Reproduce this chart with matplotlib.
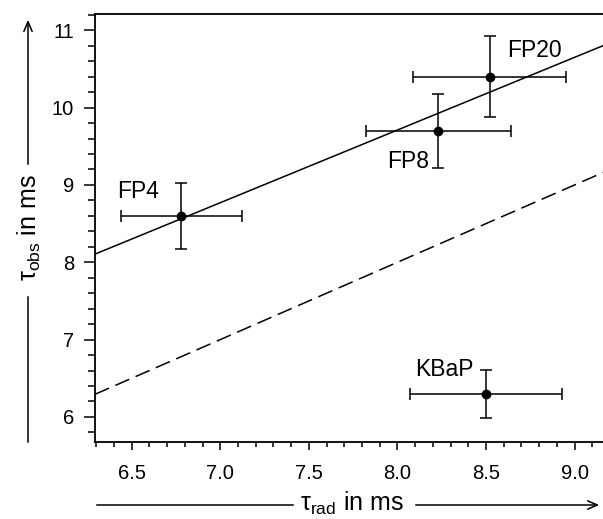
import matplotlib
matplotlib.use("Agg")
import matplotlib.pyplot as plt
import numpy as np
from matplotlib.ticker import MultipleLocator, FormatStrFormatter

plt.rcParams['font.family'] = ['Liberation Sans', 'DejaVu Sans']
plt.rcParams['mathtext.fontset'] = 'custom'
plt.rcParams['mathtext.rm'] = 'Liberation Sans'
plt.rcParams['mathtext.it'] = 'Liberation Sans:italic'

# data
labels = ["FP4", "FP8", "FP20", "KBaP"]
tau_rad = [6.78, 8.23, 8.52, 8.50]
tau_rad_err = [0.34, 0.41, 0.43, 0.43]
tau_obs = [8.60, 9.70, 10.40, 6.30]
tau_obs_err = [0.43, 0.48, 0.52, 0.31]
label_pos = [(6.42, 8.83), (7.94, 9.215), (8.62, 10.66), (8.10, 6.53)]
fit_intercept = 2.19
fit_slope = 0.94

xlim = (6.293, 9.16)
ylim = (5.68, 11.21)

fig = plt.figure(figsize=(6.03, 5.19), dpi=100)
ax = fig.add_axes([95/603, (519-441.7)/519, (603-95)/603, (441.7-14)/519])

ax.errorbar(tau_rad, tau_obs, xerr=tau_rad_err, yerr=tau_obs_err, fmt='o',
            color='black', ms=6, elinewidth=1.1, capsize=4, capthick=1.1, zorder=3)

xs = np.array(xlim)
ax.plot(xs, fit_intercept + fit_slope * xs, color='black', lw=1.1)
ax.plot(xs, xs, color='black', lw=1.1, ls=(0, (10, 4.5)))

for lab, (lx, ly) in zip(labels, label_pos):
    ax.text(lx, ly, lab, fontsize=16.5, ha='left', va='baseline')

ax.set_xlim(*xlim)
ax.set_ylim(*ylim)
ax.xaxis.set_major_locator(MultipleLocator(0.5))
ax.xaxis.set_minor_locator(MultipleLocator(0.1))
ax.xaxis.set_major_formatter(FormatStrFormatter('%.1f'))
ax.yaxis.set_major_locator(MultipleLocator(1))
ax.yaxis.set_minor_locator(MultipleLocator(0.2))
ax.yaxis.set_major_formatter(FormatStrFormatter('%d'))
ax.spines['right'].set_visible(False)
for s in ax.spines.values():
    s.set_linewidth(1.3)
ax.tick_params(axis='x', which='major', direction='out', length=6, width=1.1, labelsize=14.5, pad=10)
ax.tick_params(axis='x', which='minor', direction='out', length=3.5, width=1.1)
ax.tick_params(axis='y', which='major', direction='out', length=8, width=1.1, labelsize=14.5, pad=7)
ax.tick_params(axis='y', which='minor', direction='out', length=5, width=1.1)

W, H = 603, 519
def fx(p): return p / W
def fy(p): return 1 - p / H

# x axis label with arrow
fig.text(fx(352), fy(503), r'τ$_{\mathrm{rad}}$ in ms', fontsize=18, ha='center', va='center')
fig.add_artist(plt.Line2D([fx(97), fx(293)], [fy(505), fy(505)], color='black', lw=1.1))
fig.add_artist(matplotlib.patches.FancyArrowPatch((fx(413), fy(505)), (fx(602), fy(505)),
               transform=fig.transFigure, arrowstyle='->,head_length=7,head_width=3',
               color='black', lw=1.1, mutation_scale=1))

# y axis label with arrow
fig.text(fx(29), fy(228), r'τ$_{\mathrm{obs}}$ in ms', fontsize=18, ha='center', va='center', rotation=90)
fig.add_artist(plt.Line2D([fx(28), fx(28)], [fy(442), fy(297)], color='black', lw=1.1))
fig.add_artist(matplotlib.patches.FancyArrowPatch((fx(28), fy(167)), (fx(28), fy(17)),
               transform=fig.transFigure, arrowstyle='->,head_length=7,head_width=3',
               color='black', lw=1.1, mutation_scale=1))

fig.savefig('out.png', dpi=100)
